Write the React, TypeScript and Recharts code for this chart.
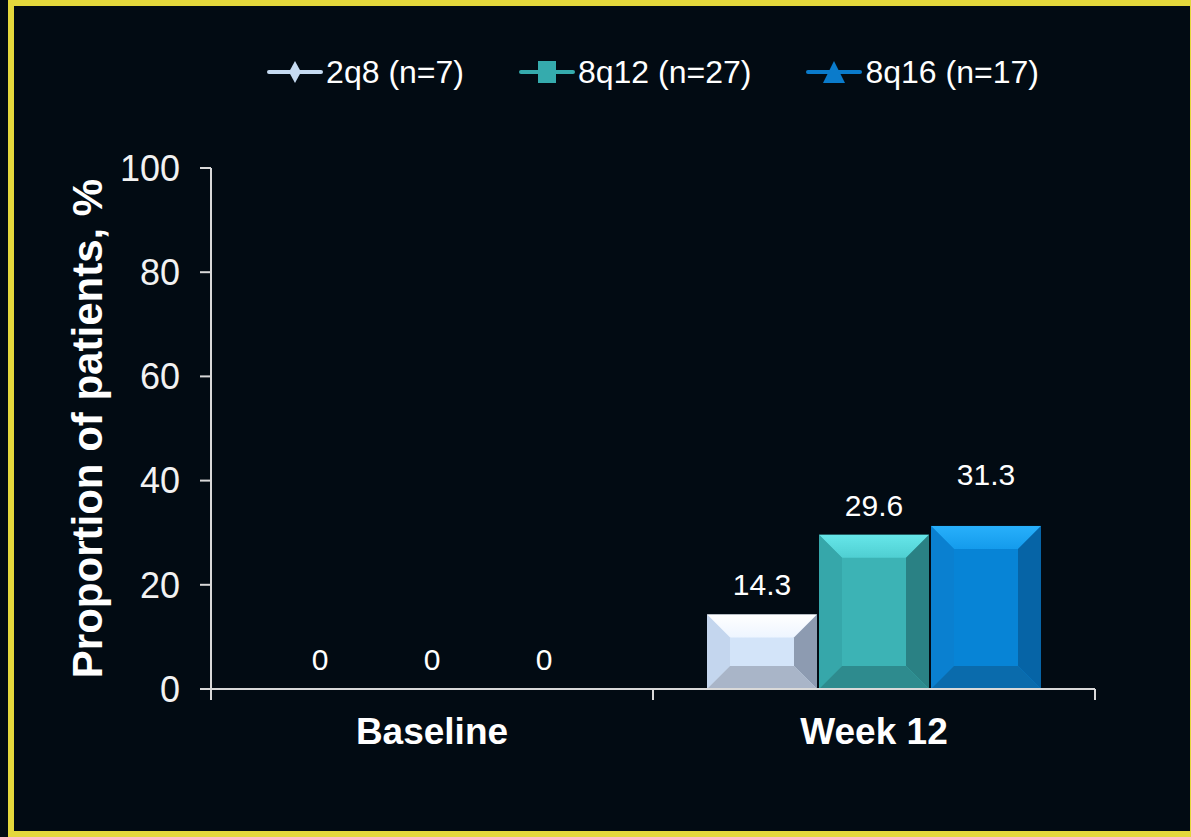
import { BarChart, Bar, XAxis, YAxis, Legend, LabelList } from 'recharts';

const categories = ['Baseline', 'Week 12'];
const seriesNames = ['2q8 (n=7)', '8q12 (n=27)', '8q16 (n=17)'];
const values2q8 = [0, 14.3];
const values8q12 = [0, 29.6];
const values8q16 = [0, 31.3];
const yTicks = [0, 20, 40, 60, 80, 100];

const data = categories.map((category, i) => ({
  category,
  s1: values2q8[i],
  s2: values8q12[i],
  s3: values8q16[i],
}));

const FONT = '"Liberation Sans", Arial, sans-serif';
const BG = '#020b13';
const AXIS = '#d9d9d9';
const X_TICK_SIZE = 6;
const X_TICK_MARGIN = 23;

type Bevel = { face: string; hi: string; top: string; left: string; right: string; bottom: string; marker: string };

const looks: Bevel[] = [
  { face: '#d3e4f9', hi: '#ffffff', top: '#eef5ff', left: '#c4d6ee', right: '#8d9bb1', bottom: '#a9b5c8', marker: '#c6dbf2' },
  { face: '#3cb3b5', hi: '#66e6e9', top: '#4fcfd2', left: '#36a7aa', right: '#2a8184', bottom: '#2e8b8e', marker: '#35abad' },
  { face: '#0784d6', hi: '#28b0fb', top: '#149bec', left: '#0a80d0', right: '#0664a6', bottom: '#0a6bac', marker: '#0a7bcb' },
];

const markers = ['diamond', 'square', 'triangle'];

// raised "bevel" bar like the slide's 3D-ish blocks
function bevelShape(c: Bevel, id: string) {
  return (props: any) => {
    const { x, y, width, height } = props;
    if (!height || height <= 0) return <g />;
    const b = Math.min(23, width / 2, height / 2);
    const x2 = x + width;
    const y2 = y + height;
    return (
      <g>
        <defs>
          <linearGradient id={`top-${id}`} x1="0" y1="0" x2="0" y2="1">
            <stop offset="0%" stopColor={c.hi} />
            <stop offset="100%" stopColor={c.top} />
          </linearGradient>
        </defs>
        <rect x={x} y={y} width={width} height={height} fill={c.face} />
        <polygon points={`${x},${y} ${x2},${y} ${x2 - b},${y + b} ${x + b},${y + b}`} fill={`url(#top-${id})`} />
        <polygon points={`${x},${y} ${x + b},${y + b} ${x + b},${y2 - b} ${x},${y2}`} fill={c.left} />
        <polygon points={`${x2},${y} ${x2},${y2} ${x2 - b},${y2 - b} ${x2 - b},${y + b}`} fill={c.right} />
        <polygon points={`${x},${y2} ${x + b},${y2 - b} ${x2 - b},${y2 - b} ${x2},${y2}`} fill={c.bottom} />
      </g>
    );
  };
}

// extra upward shift per point, the 8q16 week 12 label sits higher
const labelLift: number[][] = [[0, 0], [0, 0], [0, 22]];

const valueLabel = (lift: number[]) => (props: any) => {
  const { x, y, width, value, index } = props;
  return (
    <text
      x={x + width / 2}
      y={y - 19 - (lift[index] ?? 0)}
      textAnchor="middle"
      fill="#ffffff"
      fontSize={30}
      fontFamily={FONT}
    >
      {value}
    </text>
  );
};

// category label in the middle, tick marks on the category edges
function CategoryTick(props: any) {
  const { x, y, payload, index, visibleTicksCount } = props;
  const half = payload?.offset ?? 221;
  const axisY = y - X_TICK_SIZE - X_TICK_MARGIN;
  const last = index === (visibleTicksCount ?? categories.length) - 1;
  return (
    <g>
      <line x1={x - half} y1={axisY} x2={x - half} y2={axisY + 11} stroke={AXIS} strokeWidth={2} />
      {last && <line x1={x + half} y1={axisY} x2={x + half} y2={axisY + 11} stroke={AXIS} strokeWidth={2} />}
      <text x={x} y={y} dy="0.71em" textAnchor="middle" fill="#ffffff" fontSize={37} fontWeight="bold" fontFamily={FONT}>
        {payload.value}
      </text>
    </g>
  );
}

function Marker({ kind, color }: { kind: string; color: string }) {
  return (
    <svg width={56} height={26} style={{ display: 'block' }}>
      <line x1={2} y1={13} x2={54} y2={13} stroke={color} strokeWidth={4} strokeLinecap="round" />
      {kind === 'diamond' && <polygon points="28,2 34,13 28,24 22,13" fill={color} />}
      {kind === 'square' && <rect x={19} y={2} width={18} height={22} fill={color} />}
      {kind === 'triangle' && <polygon points="28,2 39,24 17,24" fill={color} />}
    </svg>
  );
}

function LegendRow() {
  return (
    <div style={{ display: 'flex', justifyContent: 'center', alignItems: 'center', gap: 55, height: 40 }}>
      {seriesNames.map((name, i) => (
        <div key={name} style={{ display: 'flex', alignItems: 'center', gap: 3 }}>
          <Marker kind={markers[i]} color={looks[i].marker} />
          <span style={{ color: '#ffffff', fontSize: 32, fontFamily: FONT, whiteSpace: 'nowrap' }}>{name}</span>
        </div>
      ))}
    </div>
  );
}

export default function App() {
  return (
    <div style={{ position: 'absolute', left: 0, top: 0, width: 1191, height: 837, background: BG, overflow: 'hidden' }}>
      <BarChart
        width={1191}
        height={837}
        data={data}
        margin={{ top: 128, right: 96, left: 0, bottom: 88 }}
        barCategoryGap={54}
        barGap={2}
      >
        <Legend
          verticalAlign="top"
          content={() => <LegendRow />}
          wrapperStyle={{ top: 52, left: 211, width: 884, height: 40 }}
        />
        <XAxis
          dataKey="category"
          height={60}
          axisLine={{ stroke: AXIS, strokeWidth: 2 }}
          tickLine={false}
          tickSize={X_TICK_SIZE}
          tickMargin={X_TICK_MARGIN}
          tick={<CategoryTick />}
        />
        <YAxis
          width={211}
          domain={[0, 100]}
          ticks={yTicks}
          axisLine={{ stroke: AXIS, strokeWidth: 2 }}
          tickLine={{ stroke: AXIS, strokeWidth: 2 }}
          tickSize={11}
          tickMargin={20}
          tick={{ fill: '#f2f2f2', fontSize: 36, fontFamily: FONT }}
          label={{
            value: 'Proportion of patients, %',
            angle: -90,
            position: 'center',
            dx: -18,
            style: { fill: '#ffffff', fontSize: 42, fontWeight: 'bold', fontFamily: FONT },
          }}
        />
        {['s1', 's2', 's3'].map((key, i) => (
          <Bar
            key={key}
            dataKey={key}
            name={seriesNames[i]}
            fill={looks[i].face}
            shape={bevelShape(looks[i], key)}
            isAnimationActive={false}
          >
            <LabelList dataKey={key} content={valueLabel(labelLift[i])} />
          </Bar>
        ))}
      </BarChart>
      <div
        style={{
          position: 'absolute',
          left: 8,
          top: 0,
          width: 1188,
          height: 837,
          border: '6px solid #e4d83c',
          boxSizing: 'border-box',
          pointerEvents: 'none',
        }}
      />
    </div>
  );
}
